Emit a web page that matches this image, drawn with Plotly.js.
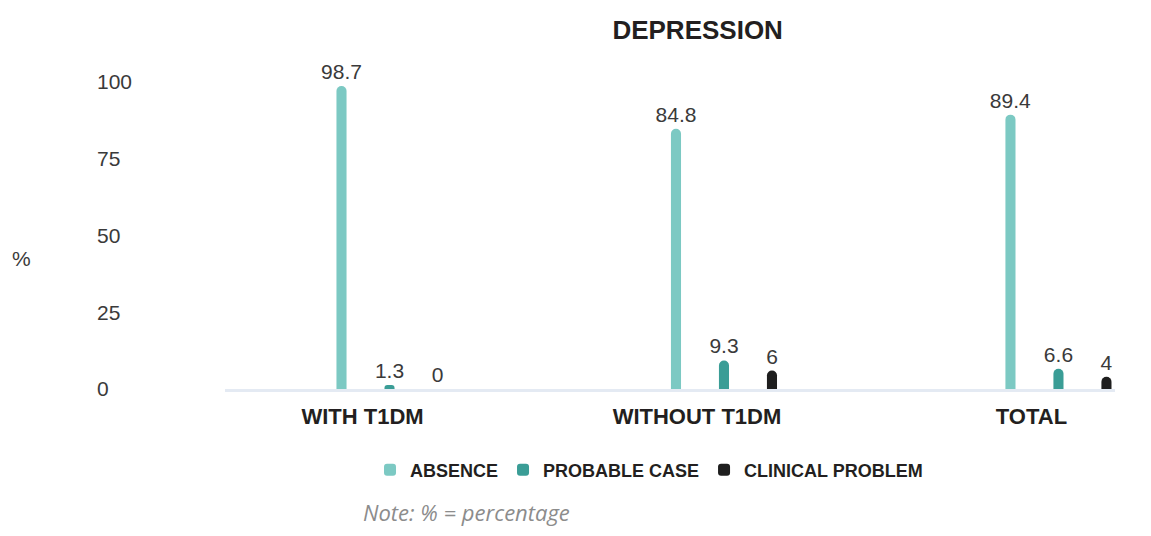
<!DOCTYPE html>
<html>
<head>
<meta charset="utf-8">
<script src="https://cdn.plot.ly/plotly-3.0.1.min.js"></script>
<style>html,body{margin:0;padding:0;background:#fff;}#chart{width:1151px;height:536px;}</style>
</head>
<body>
<div id="chart"></div>
<script>
const categories = ["WITH T1DM", "WITHOUT T1DM", "TOTAL"];
const absence = [98.7, 84.8, 89.4];
const probableCase = [1.3, 9.3, 6.6];
const clinicalProblem = [0, 6, 4];
const seriesNames = ["ABSENCE", "PROBABLE CASE", "CLINICAL PROBLEM"];
const yTicks = [0, 25, 50, 75, 100];

const FONT = "Liberation Sans, Arial, Helvetica, sans-serif";
const colors = ["#7cc9c3", "#3a9d96", "#1e1e1e"];
const seriesValues = [absence, probableCase, clinicalProblem];

const traces = seriesValues.map((vals, i) => ({
  type: "bar",
  name: seriesNames[i],
  x: categories,
  y: vals,
  text: vals.map(v => String(v)),
  textposition: "outside",
  constraintext: "none",
  cliponaxis: false,
  textfont: {family: FONT, size: 21, color: "#3a3a3a"},
  marker: {color: colors[i]},
  hoverinfo: "skip"
}));

const layout = {
  width: 1151, height: 536,
  margin: {l: 10, r: 10, t: 60, b: 147},
  paper_bgcolor: "#ffffff", plot_bgcolor: "#ffffff",
  barmode: "group",
  bargap: 0.5695,
  bargroupgap: 0.79,
  barcornerradius: 5,
  showlegend: true,
  title: {
    text: "DEPRESSION",
    font: {family: FONT, size: 26, weight: "bold", color: "#231f20"},
    x: 0.608, xref: "paper", xanchor: "center",
    y: 0.944, yref: "container", yanchor: "middle"
  },
  xaxis: {
    type: "category",
    domain: [0.1901, 0.977],
    range: [-0.4918, 2.169],
    showline: true, linecolor: "#e4eaf3", linewidth: 3,
    showgrid: false, zeroline: false, ticks: "",
    ticklabelshift: -27,
    ticklabelstandoff: 6,
    tickfont: {family: FONT, size: 22, weight: "bold", color: "#231f20"},
    fixedrange: true
  },
  yaxis: {
    range: [0, 107.2],
    side: "right",
    anchor: "free",
    position: 0.076,
    tickmode: "array",
    tickvals: yTicks,
    ticktext: yTicks.map(String),
    showgrid: false, zeroline: false, showline: false, ticks: "",
    tickfont: {family: FONT, size: 21, color: "#3a3a3a"},
    fixedrange: true
  },
  legend: {
    orientation: "h",
    x: 0.565, xref: "paper", xanchor: "center",
    y: -0.246, yref: "paper", yanchor: "middle",
    font: {family: FONT, size: 18, weight: "bold", color: "#231f20"},
    itemwidth: 30,
    tracegroupgap: 0
  },
  annotations: [
    {
      text: "%", xref: "paper", yref: "paper", x: 0.0106, y: 0.398,
      xanchor: "center", yanchor: "middle", showarrow: false,
      font: {family: FONT, size: 21, color: "#3a3a3a"}
    },
    {
      text: "<i>Note: % = percentage</i>", xref: "paper", yref: "paper", x: 0.310, y: -0.374,
      xanchor: "left", yanchor: "middle", showarrow: false,
      font: {family: "Open Sans, sans-serif", size: 22, style: "italic", color: "#8c8c8c"}
    }
  ]
};

Plotly.newPlot("chart", traces, layout, {displayModeBar: false, staticPlot: true});
</script>
</body>
</html>
